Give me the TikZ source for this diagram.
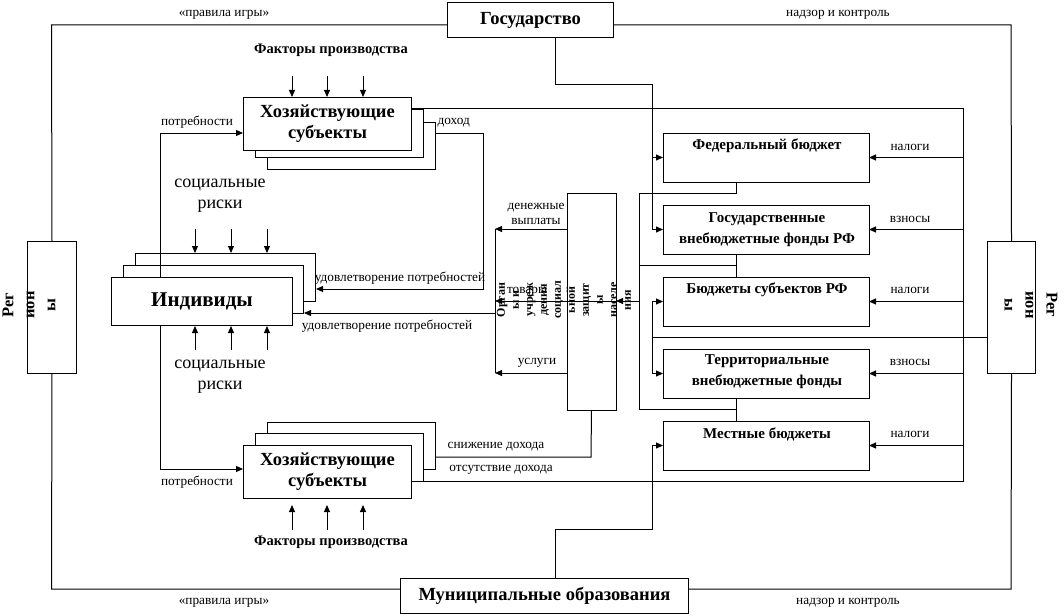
\documentclass[tikz,border=0pt]{standalone}
\usepackage{fontspec}
\setmainfont{Liberation Serif}
\usetikzlibrary{arrows.meta,calc}
\begin{document}
\begin{tikzpicture}[x=1pt,y=-1pt,line width=1pt,
  box/.style={draw,fill=white,inner sep=0pt,anchor=north west,align=center},
  arr/.style={-{Triangle[length=7pt,width=6pt]}},
  lbl/.style={inner sep=0pt,font=\fontsize{13.3}{15}\selectfont},
  bigt/.style={font=\bfseries\fontsize{18.5}{21}\selectfont},
  indt/.style={font=\bfseries\fontsize{21}{24}\selectfont},
  midt/.style={inner sep=0pt,align=center,font=\bfseries\fontsize{15}{21}\selectfont},
  risk/.style={inner sep=0pt,align=center,font=\fontsize{18}{21}\selectfont},
  fact/.style={inner sep=0pt,font=\bfseries\fontsize{14.5}{17}\selectfont},
  regt/.style={inner sep=0pt,align=center,font=\bfseries\fontsize{16.5}{21}\selectfont},
  soct/.style={inner sep=0pt,align=center,font=\bfseries\fontsize{12}{14}\selectfont},
]
\useasboundingbox (0,0) rectangle (1064,615);
\fill[white] (0,0) rectangle (1064,615);

% ---- back boxes
\node[box,minimum width=168pt,minimum height=47pt] (hzT3) at (267,122) {};
\node[box,minimum width=168pt,minimum height=48pt] (hzT2) at (255,109) {};
\node[box,minimum width=168pt,minimum height=47pt] (hzB3) at (267,422) {};
\node[box,minimum width=168pt,minimum height=48pt] (hzB2) at (255,433) {};
\node[box,minimum width=180pt,minimum height=48pt] (ind3) at (135,253) {};
\node[box,minimum width=180pt,minimum height=48pt] (ind2) at (123,265) {};

% ---- main boxes (geometry only, drawn later on top)
\path (447,2) node[box,minimum width=166pt,minimum height=35pt,draw=none,fill=none] (gos) {};
\path (400,578) node[box,minimum width=288pt,minimum height=35pt,draw=none,fill=none] (mun) {};
\path (27,241) node[box,minimum width=49pt,minimum height=132pt,draw=none,fill=none] (regL) {};
\path (987,241) node[box,minimum width=48pt,minimum height=132pt,draw=none,fill=none] (regR) {};
\path (243,97) node[box,minimum width=168pt,minimum height=53pt,draw=none,fill=none] (hzT) {};
\path (243,445) node[box,minimum width=168pt,minimum height=53pt,draw=none,fill=none] (hzB) {};
\path (111,277) node[box,minimum width=181pt,minimum height=48pt,draw=none,fill=none] (ind) {};
\path (567,193) node[box,minimum width=48pt,minimum height=216pt,draw=none,fill=none] (soc) {};
\path (663,133) node[box,minimum width=205pt,minimum height=48pt,draw=none,fill=none] (fed) {};
\path (663,205) node[box,minimum width=205pt,minimum height=48pt,draw=none,fill=none] (gvf) {};
\path (663,277) node[box,minimum width=205pt,minimum height=48pt,draw=none,fill=none] (sub) {};
\path (663,349) node[box,minimum width=205pt,minimum height=48pt,draw=none,fill=none] (ter) {};
\path (663,421) node[box,minimum width=205pt,minimum height=48pt,draw=none,fill=none] (mes) {};

% ---- frame
\coordinate (ftl) at (51.5,25); \coordinate (ftr) at (1011,25);
\coordinate (fbl) at (51.5,589); \coordinate (fbr) at (1011,589);
\draw (gos.west |- ftl) -- (ftl) -- (regL.north);
\draw (regL.south) -- (fbl) -- (fbl -| mun.west);
\draw (gos.east |- ftr) -- (ftr) -- (regR.north);
\draw (regR.south) -- (fbr) -- (fbr -| mun.east);

% ---- needs
\coordinate (pvT) at (160,133); \coordinate (pvB) at (160,469);
\draw[arr] (ind.north -| pvT) -- (pvT) -- (pvT -| hzT.west);
\draw[arr] (ind.south -| pvB) -- (pvB) -- (pvB -| hzB.west);

% ---- income -> satisfaction
\coordinate (dx) at (483,133); \coordinate (u1) at (483,289);
\draw[arr] (dx -| hzT3.east) -- (dx) -- (u1) -- (u1 -| ind3.east);

% ---- social protection outputs
\coordinate (b229) at (495,229); \coordinate (b301) at (495,301);
\coordinate (b313) at (495,313); \coordinate (b373) at (495,373);
\draw[arr] (b229 -| soc.west) -- (b229);
\draw[arr] (b373 -| soc.west) -- (b373);
\draw (b229) -- (b373);
\draw[arr] (b313) -- (b313 -| ind2.east);
\coordinate (c301) at (639,301);
\draw[arr] (c301) -- (c301 -| soc.east);
\draw[arr] (c301 -| soc.east) -- (b301);

% ---- income decrease
\coordinate (sn) at (591,457);
\draw (soc.south) -- (sn) -- (sn -| hzB3.east);

% ---- taxes column
\coordinate (nT) at (963,109); \coordinate (nB) at (963,481);
\draw (nT -| hzT.east) -- (nT) -- (nB) -- (nB -| hzB2.east);
\foreach \b in {fed,gvf,sub,ter,mes} \draw[arr] (nT |- \b.east) -- (\b.east);

% ---- state
\coordinate (g1) at (555,85); \coordinate (g2) at (652,85);
\draw (g1 |- gos.south) -- (g1) -- (g2) -- (g2 |- gvf.west);
\draw[arr] (g2 |- gvf.west) -- (gvf.west);
\draw[arr] (g2 |- fed.west) -- (fed.west);

% ---- municipal
\coordinate (m1) at (555,529); \coordinate (m2) at (652,529);
\draw[arr] (m1 |- mun.north) -- (m1) -- (m2) -- (m2 |- mes.west) -- (mes.west);

% ---- regions
\coordinate (r1) at (652,337);
\draw (regR.west |- r1) -- (r1);
\draw[arr] (r1) -- (r1 |- sub.west) -- (sub.west);
\draw[arr] (r1) -- (r1 |- ter.west) -- (ter.west);

% ---- budgets bus
\coordinate (q1) at (639,193); \coordinate (q2) at (639,265); \coordinate (q3) at (639,409);
\coordinate (q1b) at (736,193); \coordinate (q2b) at (736,265); \coordinate (q3b) at (736,409);
\draw (q1b |- fed.south) -- (q1b) -- (q1) -- (q3) -- (q3b) -- (q3b |- ter.south);
\draw (q3b) -- (q3b |- mes.north);
\draw (q2) -- (q2b);
\draw (q2b |- gvf.south) -- (q2b |- sub.north);

% ---- small input arrows
\foreach \x [count=\i] in {292,327,363} {
  \coordinate (fa\i) at (\x,76); \draw[arr] (fa\i) -- (fa\i |- hzT.north);
  \coordinate (fb\i) at (\x,530); \coordinate (fc\i) at (\x,505); \draw[arr] (fb\i) -- (fc\i);
}
\foreach \x [count=\i] in {195,231,267} {
  \coordinate (sa\i) at (\x,229); \draw[arr] (sa\i) -- (sa\i |- ind3.north);
  \coordinate (sb\i) at (\x,350); \draw[arr] (sb\i) -- (sb\i |- ind.south);
}

% ---- front boxes
\node[box,minimum width=166pt,minimum height=35pt,bigt] (gosB) at (447,2) {Государство};
\node[box,minimum width=288pt,minimum height=35pt,bigt] (munB) at (400,578) {Муниципальные образования};
\node[box,minimum width=49pt,minimum height=132pt] (regLB) at (27,241) {};
\node[box,minimum width=48pt,minimum height=132pt] (regRB) at (987,241) {};
\node[box,minimum width=168pt,minimum height=53pt,bigt] (hzTB) at (243,97) {Хозяйствующие\\субъекты};
\node[box,minimum width=168pt,minimum height=53pt,bigt] (hzBB) at (243,445) {Хозяйствующие\\субъекты};
\node[box,minimum width=181pt,minimum height=48pt,indt] (indB) at (111,277) {Индивиды};
\draw (soc.north west) rectangle (soc.south east);
\foreach \b in {fed,gvf,sub,ter,mes} \draw[fill=white] (\b.north west) rectangle (\b.south east);

% ---- texts in boxes
\node[midt] (fedT) at (767,146) {Федеральный бюджет};
\node[midt] (gvfT) at (767,229.5) {Государственные\\внебюджетные фонды РФ};
\node[midt] (subT) at (767,290) {Бюджеты субъектов РФ};
\node[midt] (terT) at (767,372) {Территориальные\\внебюджетные фонды};
\node[midt] (mesT) at (767,434) {Местные бюджеты};
\node[regt,rotate=90] (regLt) at (29,305) {Рег\\ион\\ы};
\node[regt,rotate=-90] (regRt) at (1031,305) {Рег\\ион\\ы};

% ---- labels
\node[lbl] (prT) at (224,15) {«правила игры»};
\node[lbl] (prB) at (224,603) {«правила игры»};
\node[lbl] (nkT) at (838,15) {надзор и контроль};
\node[lbl] (nkB) at (848,603) {надзор и контроль};
\node[fact] (fpT) at (331,50) {Факторы производства};
\node[fact] (fpB) at (331,542) {Факторы производства};
\node[risk] (srT) at (220,196) {социальные\\риски};
\node[risk] (srB) at (220,377) {социальные\\риски};
\node[lbl] (potT) at (197,122) {потребности};
\node[lbl] (potB) at (197,482) {потребности};
\node[lbl,anchor=west] (doh) at (437,123) {доход};
\node[lbl] (ud1) at (400,278) {удовлетворение потребностей};
\node[lbl] (ud2) at (387,326) {удовлетворение потребностей};
\node[lbl,align=center] (dv) at (536,214) {денежные\\выплаты};
\node[lbl] (tov) at (527,292) {товары};
\node[lbl] (usl) at (537,363) {услуги};
\node[lbl] (snd) at (496,447) {снижение дохода};
\node[lbl] (otd) at (501,470) {отсутствие дохода};
\node[lbl] (nl1) at (910,147) {налоги};
\node[lbl] (vz1) at (910,219) {взносы};
\node[lbl] (nl2) at (910,290) {налоги};
\node[lbl] (vz2) at (910,362) {взносы};
\node[lbl] (nl3) at (910,434) {налоги};
\node[soct,rotate=90] (socT) at (564,300) {Орган\\ы и\\учреж\\дения\\социал\\ьной\\защит\\ы\\населе\\ния};
\end{tikzpicture}
\end{document}
